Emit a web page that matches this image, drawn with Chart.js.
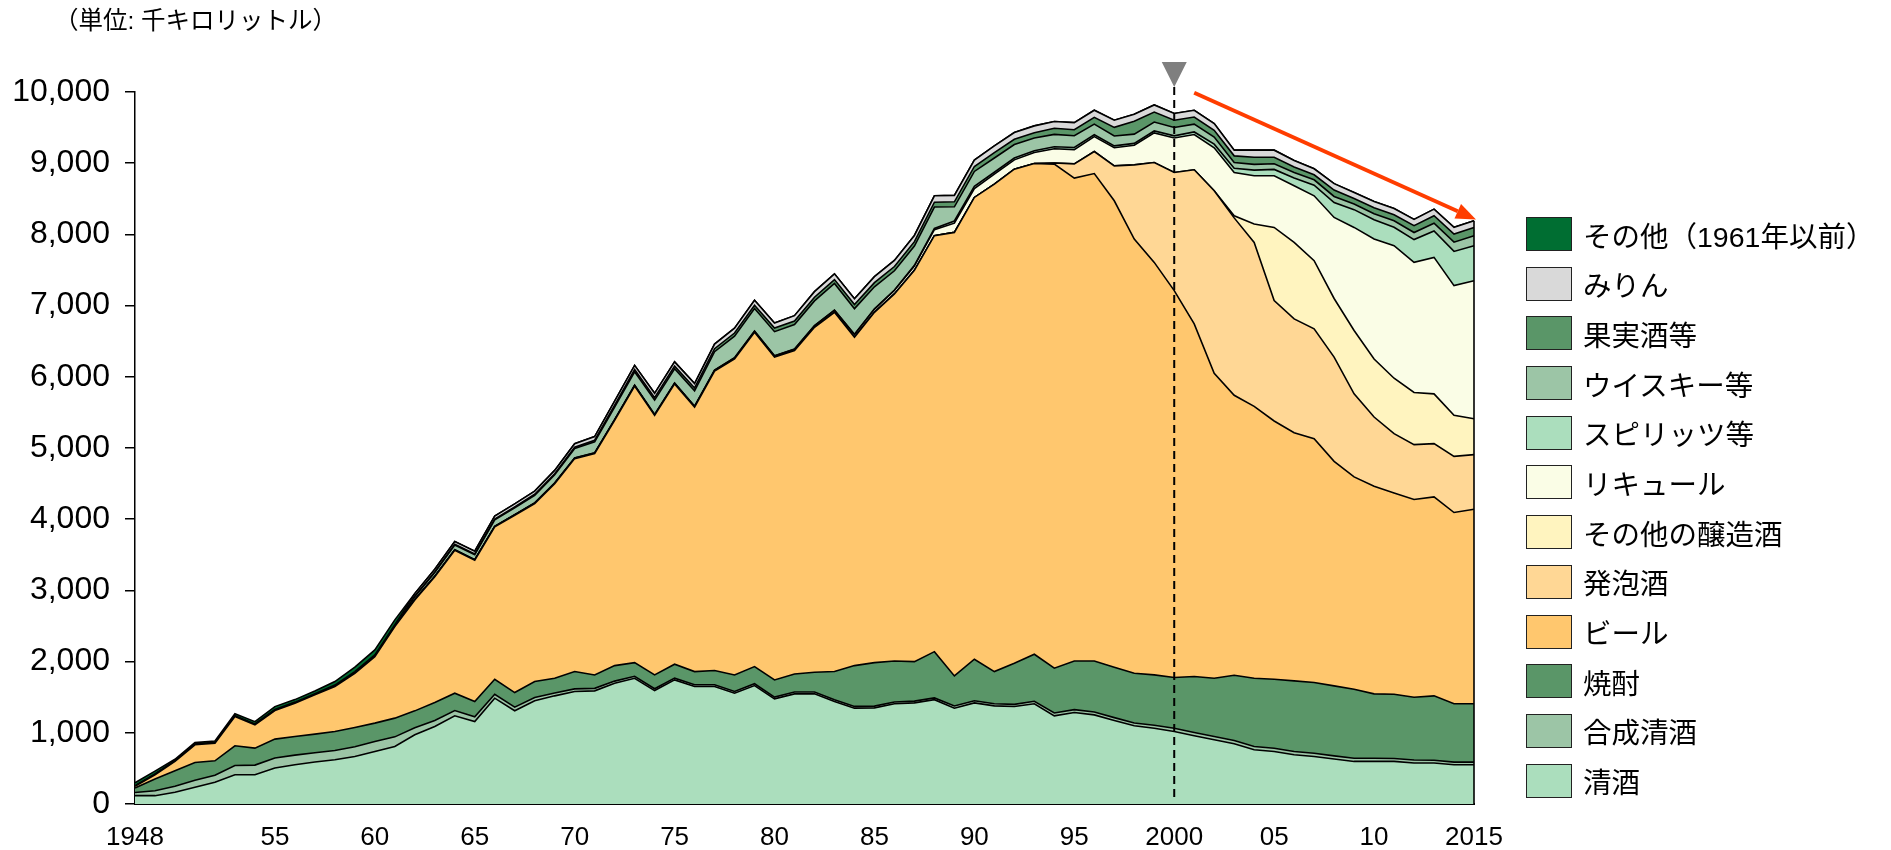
<!DOCTYPE html>
<html lang="ja">
<head>
<meta charset="utf-8">
<title>酒類課税数量の推移</title>
<script src="https://cdn.jsdelivr.net/npm/chart.js@4.4.1/dist/chart.umd.min.js"></script>
<style>
  body { margin: 0; background: #fff; }
  #wrap { position: relative; width: 1891px; height: 850px; font-family: "Liberation Sans", "Noto Sans CJK JP", sans-serif; color: #000; }
  #chart { display: block; }
  #unit { position: absolute; left: 54px; top: 6px; font-size: 24.5px; line-height: 30px; white-space: nowrap; }
  #legend { position: absolute; left: 1526px; top: 217px; margin: 0; padding: 0; list-style: none; }
  #legend li { display: flex; align-items: center; height: 34px; margin-bottom: 15.7px; font-size: 28.5px; white-space: nowrap; }
  #legend .box { width: 46px; height: 34px; box-sizing: border-box; border: 1.5px solid #222; margin-right: 11px; }
</style>
</head>
<body>
<div id="wrap">
  <canvas id="chart" width="1891" height="850"></canvas>
  <div id="unit">（単位: 千キロリットル）</div>
  <ul id="legend"></ul>
</div>
<script>
// 年 (1948〜2015)
const years = [];
for (let y = 1948; y <= 2015; y++) years.push(y);

// x軸の目盛り
const tickYears = [1948, 1955, 1960, 1965, 1970, 1975, 1980, 1985, 1990, 1995, 2000, 2005, 2010, 2015];
const tickText  = ['1948', '55', '60', '65', '70', '75', '80', '85', '90', '95', '2000', '05', '10', '2015'];

// 単位: 千キロリットル (下から積み上げ順)
const seishu = [
  117, 117, 164, 234, 304, 411, 411, 505, 551, 589,        // 1948-
  621, 668, 738, 808, 972, 1089, 1238, 1159, 1486, 1310,   // 1958-
  1450, 1519, 1579, 1589, 1696, 1766, 1593, 1743, 1650, 1650,
  1556, 1664, 1477, 1547, 1547, 1439, 1346, 1350, 1407, 1420,
  1465, 1346, 1420, 1378, 1369, 1407, 1238, 1285, 1252, 1173,
  1098, 1065, 1019, 958, 902, 846, 762, 738, 692, 668,
  631, 598, 598, 598, 575, 575, 551, 551
];
const goseiSeishu = [
  45, 70, 85, 100, 100, 130, 135, 140, 135, 130,
  130, 135, 140, 135, 100, 85, 75, 65, 55, 50,
  45, 40, 38, 35, 30, 28, 25, 25, 25, 25,
  25, 25, 25, 25, 25, 25, 25, 25, 25, 25,
  25, 30, 30, 30, 30, 35, 40, 40, 40, 40,
  40, 40, 45, 45, 45, 45, 45, 45, 45, 45,
  45, 45, 45, 42, 42, 40, 37, 37
];
const shochu = [
  62, 163, 218, 250, 203, 277, 239, 266, 263, 262,
  268, 272, 258, 263, 236, 251, 243, 215, 211, 205,
  225, 207, 243, 189, 218, 192, 195, 195, 185, 199,
  232, 241, 241, 255, 279, 396, 573, 611, 577, 554,
  650, 423, 583, 452, 578, 661, 629, 684, 717, 708,
  698, 708, 712, 787, 819, 917, 959, 969, 992, 993,
  983, 969, 904, 902, 883, 904, 819, 819
];
const beer = [
  24, 61, 131, 248, 248, 411, 327, 402, 467, 552,
  631, 761, 934, 1285, 1557, 1767, 2009, 1986, 2141, 2491,
  2500, 2734, 2991, 3108, 3444, 3884, 3645, 3937, 3715, 4206,
  4440, 4696, 4533, 4542, 4845, 5046, 4612, 4920, 5155, 5496,
  5842, 6229, 6486, 6846, 6940, 6892, 7080, 6782, 6846, 6551,
  6099, 5794, 5434, 4953, 4284, 3932, 3818, 3627, 3486, 3425,
  3154, 2982, 2916, 2827, 2776, 2794, 2687, 2733
];
const happoshu = [
  0, 0, 0, 0, 0, 0, 0, 0, 0, 0,
  0, 0, 0, 0, 0, 0, 0, 0, 0, 0,
  0, 0, 0, 0, 0, 0, 0, 0, 0, 0,
  0, 0, 0, 0, 0, 0, 0, 0, 0, 0,
  0, 0, 0, 0, 0, 0, 15, 200, 309, 491,
  1042, 1403, 1659, 2164, 2563, 2492, 2304, 1691, 1598, 1542,
  1463, 1166, 972, 832, 771, 748, 789, 767
];
const sonotaJozo = [
  0, 0, 0, 0, 0, 0, 0, 0, 0, 0,
  0, 0, 0, 0, 0, 0, 0, 0, 0, 0,
  0, 0, 0, 0, 0, 0, 0, 0, 0, 0,
  0, 0, 0, 0, 0, 0, 0, 0, 0, 0,
  0, 0, 0, 0, 0, 0, 0, 0, 0, 0,
  0, 0, 0, 0, 0, 30, 258, 1028, 1075, 958,
  824, 890, 815, 779, 733, 699, 577, 504
];
const liqueur = [
  0, 0, 0, 0, 0, 0, 0, 0, 0, 0,
  0, 0, 0, 0, 5, 5, 5, 5, 6, 6,
  7, 7, 8, 9, 9, 10, 10, 10, 10, 11,
  12, 12, 15, 17, 20, 26, 36, 42, 48, 60,
  85, 130, 125, 140, 130, 155, 200, 200, 210, 255,
  275, 415, 485, 495, 604, 607, 677, 725, 795, 911,
  1138, 1448, 1685, 1861, 1827, 1917, 1821, 1939
];
const spirits = [
  0, 0, 0, 0, 0, 0, 0, 0, 0, 0,
  0, 0, 0, 0, 2, 2, 2, 2, 2, 2,
  2, 2, 2, 2, 2, 2, 2, 2, 2, 3,
  3, 3, 3, 3, 3, 4, 5, 6, 7, 11,
  17, 30, 30, 27, 26, 24, 28, 29, 25, 25,
  26, 28, 30, 37, 50, 61, 80, 90, 110, 150,
  210, 250, 270, 260, 320, 370, 480, 490
];
const whisky = [
  0, 0, 0, 0, 0, 0, 0, 0, 0, 0,
  0, 0, 0, 0, 40, 52, 65, 70, 90, 97,
  107, 114, 132, 155, 177, 188, 203, 200, 216, 258,
  302, 317, 340, 345, 347, 375, 360, 310, 270, 270,
  300, 200, 210, 200, 190, 180, 175, 165, 150, 140,
  130, 125, 117, 110, 100, 80, 80, 80, 75, 75,
  85, 80, 85, 90, 100, 110, 130, 140
];
const kajitsushu = [
  0, 0, 0, 0, 0, 0, 0, 0, 0, 0,
  0, 0, 0, 0, 8, 9, 10, 10, 12, 13,
  14, 15, 18, 22, 27, 32, 35, 38, 40, 43,
  45, 48, 50, 50, 52, 55, 57, 58, 60, 62,
  68, 70, 70, 75, 72, 75, 85, 85, 95, 120,
  180, 140, 103, 100, 95, 93, 100, 90, 80, 70,
  90, 75, 85, 85, 95, 105, 115, 117
];
const mirin = [
  10, 12, 10, 10, 10, 12, 12, 15, 15, 17,
  20, 22, 25, 28, 35, 37, 38, 38, 40, 42,
  45, 47, 50, 52, 55, 58, 60, 60, 62, 65,
  68, 70, 72, 75, 78, 80, 82, 84, 85, 87,
  90, 90, 90, 95, 95, 95, 95, 100, 100, 100,
  100, 100, 95, 95, 95, 80, 100, 100, 90, 85,
  90, 85, 87, 88, 88, 93, 93, 95
];
const sonota = [
  40, 38, 20, 20, 20, 28, 33, 40, 35, 38,
  50, 63, 70, 67, 0, 0, 0, 0, 0, 0,
  0, 0, 0, 0, 0, 0, 0, 0, 0, 0,
  0, 0, 0, 0, 0, 0, 0, 0, 0, 0,
  0, 0, 0, 0, 0, 0, 0, 0, 0, 0,
  0, 0, 0, 0, 0, 0, 0, 0, 0, 0,
  0, 0, 0, 0, 0, 0, 0, 0
];

const seriesNames = ['清酒', '合成清酒', '焼酎', 'ビール', '発泡酒', 'その他の醸造酒',
  'リキュール', 'スピリッツ等', 'ウイスキー等', '果実酒等', 'みりん', 'その他（1961年以前）'];
const seriesData = [seishu, goseiSeishu, shochu, beer, happoshu, sonotaJozo,
  liqueur, spirits, whisky, kajitsushu, mirin, sonota];
const seriesColors = ['#abdebd', '#9cc5a6', '#5a9668', '#ffc76e', '#ffd795', '#fff4bf',
  '#fafde6', '#abdebd', '#9cc5a6', '#5a9668', '#d9d9d9', '#006e32'];

// 注記: 2000年の区切りと減少の矢印
const markYear = 2000;
const arrowFrom = [2001, 9990];
const arrowTo = [2015, 8210];

const datasets = seriesNames.map((name, i) => ({
  label: name,
  data: seriesData[i],
  backgroundColor: seriesColors[i],
  borderColor: '#000',
  borderWidth: 1.6,
  pointRadius: 0,
  tension: 0,
  fill: i === 0 ? 'origin' : '-1'
}));

// 凡例 (上から逆順)
const legendEl = document.getElementById('legend');
for (let i = seriesNames.length - 1; i >= 0; i--) {
  const li = document.createElement('li');
  const box = document.createElement('span');
  box.className = 'box';
  box.style.background = seriesColors[i];
  const txt = document.createElement('span');
  txt.textContent = seriesNames[i];
  li.appendChild(box);
  li.appendChild(txt);
  legendEl.appendChild(li);
}

const markers = {
  id: 'markers',
  afterDatasetsDraw(chart) {
    const {ctx, chartArea, scales} = chart;
    const x = scales.x, y = scales.y;
    ctx.save();

    // 右端の縁取り
    const lastMeta = chart.getDatasetMeta(datasets.length - 1);
    const lastPt = lastMeta.data[lastMeta.data.length - 1];
    ctx.strokeStyle = '#000';
    ctx.lineWidth = 1.6;
    ctx.beginPath();
    ctx.moveTo(lastPt.x, chartArea.bottom);
    ctx.lineTo(lastPt.x, lastPt.y);
    ctx.stroke();

    // 2000年の破線と三角
    const xm = x.getPixelForValue(years.indexOf(markYear));
    const tipY = chartArea.top - 5;
    ctx.setLineDash([8, 5]);
    ctx.lineWidth = 2;
    ctx.beginPath();
    ctx.moveTo(xm, tipY);
    ctx.lineTo(xm, chartArea.bottom - 6);
    ctx.stroke();
    ctx.setLineDash([]);
    ctx.fillStyle = '#7f7f7f';
    ctx.beginPath();
    ctx.moveTo(xm - 12.5, tipY - 25);
    ctx.lineTo(xm + 12.5, tipY - 25);
    ctx.lineTo(xm, tipY);
    ctx.closePath();
    ctx.fill();

    // 減少を示す矢印
    const x0 = x.getPixelForValue(years.indexOf(arrowFrom[0]));
    const y0 = y.getPixelForValue(arrowFrom[1]);
    const x1 = x.getPixelForValue(years.indexOf(arrowTo[0])) + 2;
    const y1 = y.getPixelForValue(arrowTo[1]);
    const ang = Math.atan2(y1 - y0, x1 - x0);
    const headLen = 20, headW = 8;
    const bx = x1 - headLen * Math.cos(ang), by = y1 - headLen * Math.sin(ang);
    ctx.strokeStyle = '#ff3d00';
    ctx.fillStyle = '#ff3d00';
    ctx.lineWidth = 4;
    ctx.beginPath();
    ctx.moveTo(x0, y0);
    ctx.lineTo(bx, by);
    ctx.stroke();
    ctx.beginPath();
    ctx.moveTo(x1, y1);
    ctx.lineTo(bx + headW * Math.sin(ang), by - headW * Math.cos(ang));
    ctx.lineTo(bx - headW * Math.sin(ang), by + headW * Math.cos(ang));
    ctx.closePath();
    ctx.fill();
    ctx.restore();
  }
};

Chart.defaults.font.family = '"Liberation Sans", Arial, sans-serif';
Chart.defaults.color = '#000';

new Chart(document.getElementById('chart'), {
  type: 'line',
  data: { labels: years, datasets: datasets },
  options: {
    responsive: false,
    animation: false,
    devicePixelRatio: 1,
    layout: { padding: { top: 92, right: 417, bottom: 0, left: 0 } },
    plugins: {
      legend: { display: false },
      tooltip: { enabled: false }
    },
    scales: {
      x: {
        offset: false,
        grid: { display: false, drawTicks: false },
        border: { display: true, color: '#000', width: 2 },
        ticks: {
          autoSkip: false,
          maxRotation: 0,
          padding: 18,
          font: { size: 26 },
          callback: (v, i) => {
            const k = tickYears.indexOf(years[i]);
            return k >= 0 ? tickText[k] : null;
          }
        },
        afterFit: s => { s.height = 46; }
      },
      y: {
        stacked: true,
        min: 0,
        max: 10000,
        grid: { drawOnChartArea: false, drawTicks: true, tickLength: 10, color: '#000', lineWidth: 1.5 },
        border: { display: true, color: '#000', width: 1.5 },
        ticks: {
          stepSize: 1000,
          padding: 15,
          font: { size: 32 },
          callback: v => v.toLocaleString('en-US')
        },
        afterFit: s => { s.width = 135; }
      }
    }
  },
  plugins: [markers]
});
</script>
</body>
</html>
